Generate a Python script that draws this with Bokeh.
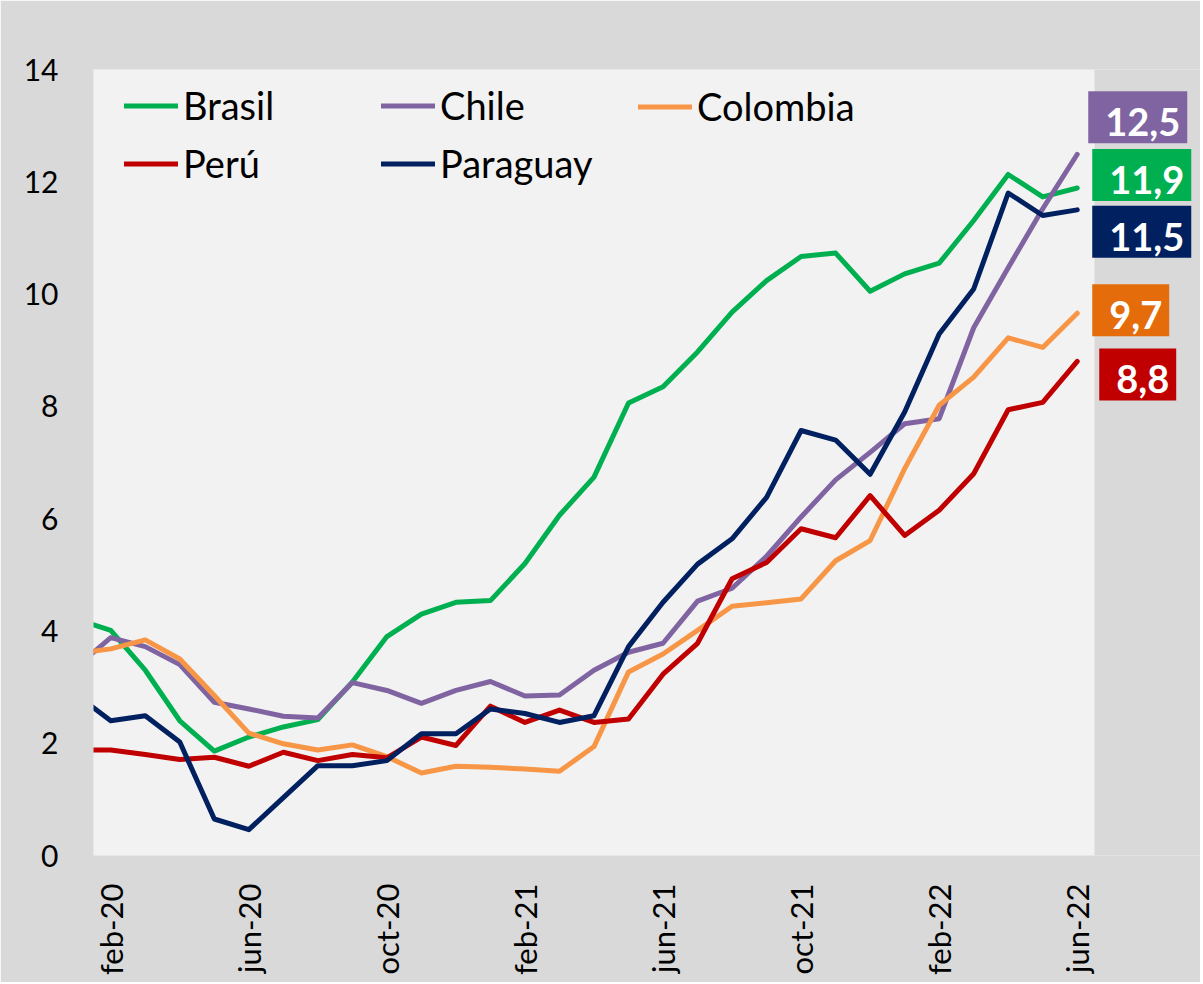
import math
from bokeh.plotting import figure
from bokeh.models import FixedTicker, Legend, LegendItem, Label, Range1d, BoxAnnotation
from bokeh.embed import file_html
from bokeh.resources import INLINE

# ---------------- data ----------------
months = ["ene-20", "feb-20", "mar-20", "abr-20", "may-20", "jun-20", "jul-20", "ago-20",
          "sep-20", "oct-20", "nov-20", "dic-20", "ene-21", "feb-21", "mar-21", "abr-21",
          "may-21", "jun-21", "jul-21", "ago-21", "sep-21", "oct-21", "nov-21", "dic-21",
          "ene-22", "feb-22", "mar-22", "abr-22", "may-22", "jun-22"]

brasil = [4.21, 4.01, 3.30, 2.40, 1.86, 2.11, 2.29, 2.42, 3.09, 3.90, 4.30, 4.51, 4.54, 5.20,
          6.06, 6.74, 8.06, 8.35, 8.97, 9.68, 10.24, 10.67, 10.73, 10.05, 10.36, 10.55, 11.31,
          12.13, 11.73, 11.89]
chile = [3.36, 3.88, 3.72, 3.40, 2.73, 2.61, 2.48, 2.45, 3.08, 2.94, 2.71, 2.94, 3.10, 2.84,
         2.86, 3.30, 3.62, 3.78, 4.53, 4.76, 5.33, 6.03, 6.69, 7.18, 7.69, 7.78, 9.40, 10.47,
         11.52, 12.49]
colombia = [3.60, 3.68, 3.84, 3.50, 2.85, 2.18, 1.99, 1.88, 1.97, 1.76, 1.47, 1.59, 1.57, 1.54,
            1.50, 1.94, 3.27, 3.59, 4.01, 4.44, 4.50, 4.57, 5.25, 5.61, 6.89, 8.02, 8.52, 9.22,
            9.05, 9.66]
peru = [1.88, 1.88, 1.80, 1.71, 1.75, 1.59, 1.84, 1.69, 1.80, 1.74, 2.11, 1.96, 2.66, 2.37,
        2.59, 2.37, 2.43, 3.23, 3.78, 4.93, 5.22, 5.82, 5.66, 6.41, 5.70, 6.15, 6.80, 7.94,
        8.07, 8.80]
paraguay = [2.86, 2.40, 2.49, 2.02, 0.65, 0.46, 1.03, 1.60, 1.60, 1.69, 2.17, 2.17, 2.61, 2.53,
            2.37, 2.49, 3.72, 4.51, 5.19, 5.64, 6.38, 7.57, 7.40, 6.79, 7.90, 9.29, 10.09, 11.80,
            11.40, 11.50]

names = ["Brasil", "Chile", "Colombia", "Perú", "Paraguay"]
series = [brasil, chile, colombia, peru, paraguay]
y_ticks = [0, 2, 4, 6, 8, 10, 12, 14]

# ---------------- styles / layout ----------------
line_colors = ["#00B050", "#8064A2", "#F79646", "#C00000", "#002060"]
box_colors = ["#00B050", "#8064A2", "#E46C0A", "#C00000", "#002060"]
box_dx = [15, 11, 15, 22, 15]      # px right of the last point (box left edge)
box_dy = [13, 37, 3, -13, -22]     # px up from the last value (box centre)
FONT = "Lato"

W, H = 1200, 982
PLOT_L, PLOT_T, PLOT_R, PLOT_B = 93, 69, 1094, 855

x = list(range(len(months)))
tick_idx = list(range(1, len(months), 4))
x_lo, x_hi = 0.5, len(months) - 0.5
px_per_unit = (PLOT_R - PLOT_L) / (x_hi - x_lo)
x_end = x_lo + (W - PLOT_L) / px_per_unit

p = figure(width=W, height=H, output_backend="svg", toolbar_location=None,
           x_range=Range1d(x_lo, x_end), y_range=Range1d(0, 14),
           min_border_left=PLOT_L, min_border_right=0, min_border_top=PLOT_T,
           min_border_bottom=H - PLOT_B)
p.border_fill_color = "#D9D9D9"
p.background_fill_color = "#D9D9D9"
p.outline_line_color = None
p.xgrid.visible = False
p.ygrid.visible = False

# light plot area
p.add_layout(BoxAnnotation(left=x_lo, right=x_hi, bottom=0, top=14, fill_color="#F2F2F2",
                           fill_alpha=1, line_color=None, level="underlay"))

# axes
p.yaxis.ticker = FixedTicker(ticks=y_ticks)
p.yaxis.axis_line_color = None
p.yaxis.major_tick_line_color = None
p.yaxis.minor_tick_line_color = None
p.yaxis.major_tick_out = 0
p.yaxis.major_tick_in = 0
p.yaxis.major_label_standoff = 35
p.yaxis.major_label_text_font = FONT
p.yaxis.major_label_text_font_size = "30px"
p.yaxis.major_label_text_color = "#000000"

p.xaxis.ticker = FixedTicker(ticks=tick_idx)
p.xaxis.major_label_overrides = {i: months[i] for i in tick_idx}
p.xaxis.major_label_orientation = math.pi / 2
p.xaxis.axis_line_color = None
p.xaxis.major_tick_line_color = None
p.xaxis.minor_tick_line_color = None
p.xaxis.major_tick_out = 0
p.xaxis.major_tick_in = 0
p.xaxis.major_label_standoff = 28
p.xaxis.major_label_text_font = FONT
p.xaxis.major_label_text_font_size = "31px"
p.xaxis.major_label_text_color = "#000000"

renderers = []
for vals, col in zip(series, line_colors):
    r = p.line(x, vals, line_color=col, line_width=5, line_join="round", line_cap="round")
    renderers.append(r)

# legend: three columns
def add_legend(idx, loc):
    items = [LegendItem(label=names[i], renderers=[renderers[i]]) for i in idx]
    lg = Legend(items=items, location=loc, orientation="vertical",
                background_fill_alpha=0, border_line_color=None, padding=0, margin=0,
                spacing=12, glyph_width=54, glyph_height=45, label_height=45,
                label_standoff=5, label_text_font=FONT, label_text_font_size="38px",
                label_text_baseline="middle", label_text_color="#000000")
    p.add_layout(lg, "center")

row1_mid = 106 - PLOT_T
leg_h2 = 45 + 12 + 45
add_legend([0, 3], (124 - PLOT_L, (PLOT_B - PLOT_T) - (row1_mid - 22) - leg_h2))
add_legend([1, 4], (381 - PLOT_L, (PLOT_B - PLOT_T) - (row1_mid - 22) - leg_h2))
add_legend([2], (638 - PLOT_L, (PLOT_B - PLOT_T) - (row1_mid - 22) - 45))

# end-value boxes
for i, vals in enumerate(series):
    txt = f"{vals[-1]:.1f}".replace(".", ",")
    lab = Label(x=x[-1], y=vals[-1], text=txt, x_offset=box_dx[i], y_offset=box_dy[i],
                text_color="white", text_font=FONT, text_font_style="bold",
                text_font_size="38px", text_align="left", text_baseline="middle",
                background_fill_color=box_colors[i], padding=(17, 7, 17, 7))
    p.add_layout(lab)

open("out.html", "w").write(file_html(p, INLINE))
